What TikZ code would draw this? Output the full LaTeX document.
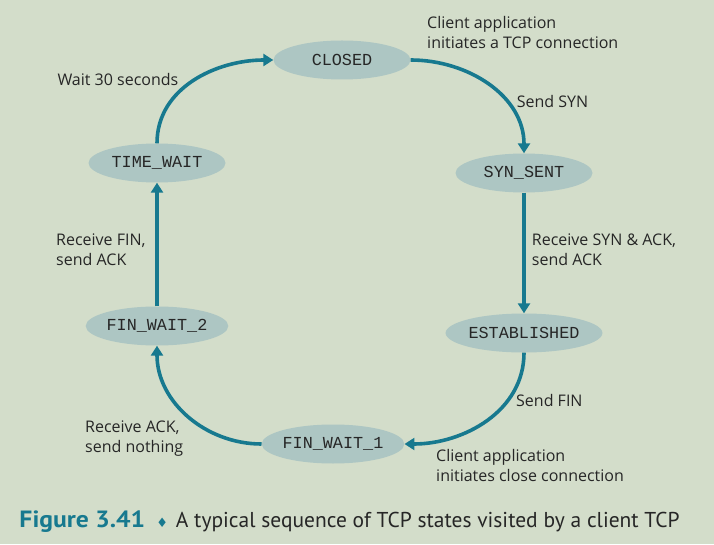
\documentclass[tikz,border=0pt]{standalone}
\usepackage{fontspec}
\setmainfont{Open Sans}
\setmonofont{Liberation Mono}
\newfontfamily\capfont{PT Sans}
\newfontfamily\symfont{DejaVu Sans}
\usepackage{xcolor}
\usetikzlibrary{shapes.geometric,arrows.meta}
\definecolor{bgcol}{HTML}{D3DDCA}
\definecolor{statecol}{HTML}{ADC6C3}
\definecolor{arrowcol}{HTML}{17798F}
\definecolor{textcol}{HTML}{262626}

\begin{document}
\begin{tikzpicture}[x=1pt,y=1pt,
state/.style={ellipse,fill=statecol,minimum width=137pt,minimum height=39pt,inner sep=0pt,
  text=textcol,font=\ttfamily\fontsize{16.8}{18}\selectfont},
trans/.style={draw=arrowcol,line width=3.6pt,-{Triangle[length=10pt,width=12pt]}},
lbl/.style={anchor=base west,align=left,inner sep=0pt,text=textcol,
  font=\fontsize{16}{20}\selectfont}
]
\fill[bgcol] (0,0) rectangle (714,544);
% states
\node[state] (closed) at (342,484) {CLOSED};
\node[state] (synsent) at (524,371) {SYN\_SENT};
\node[state] (estab) at (524,211) {ESTABLISHED};
\node[state] (finwaitone) at (333,100) {FIN\_WAIT\_1};
\node[state] (finwaittwo) at (157,218) {FIN\_WAIT\_2};
\node[state] (timewait) at (157,381) {TIME\_WAIT};
% transitions
\draw[trans] (closed.east) to[out=0,in=90] (synsent.north);
\draw[trans] (synsent.south) -- (estab.north);
\draw[trans] (estab.south) to[out=-90,in=0] (finwaitone.east);
\draw[trans] (finwaitone.west) to[out=180,in=-90] (finwaittwo.south);
\draw[trans] (finwaittwo.north) -- (timewait.south);
\draw[trans] (timewait.north) to[out=90,in=180] (closed.west);
% labels (base = last line)
\node[lbl] (lclient) at (427,495.7) {Client application\\initiates a TCP connection};
\node[lbl] (lsyn) at (516.7,436) {Send SYN};
\node[lbl] (lsynack) at (531.7,278.3) {Receive SYN \& ACK,\\send ACK};
\node[lbl] (lfin) at (516,138) {Send FIN};
\node[lbl] (lclose) at (436,62.3) {Client application\\initiates close connection};
\node[lbl] (lack) at (85,91.3) {Receive ACK,\\send nothing};
\node[lbl] (lrfin) at (56,278.3) {Receive FIN,\\send ACK};
\node[lbl] (lwait) at (57.3,458) {Wait 30 seconds};
% caption
\node[anchor=base west,inner sep=0pt,text=textcol,font=\capfont\fontsize{21.5}{24}\selectfont]
  (caption) at (19.3,16.3) {\textcolor{arrowcol}{\scalebox{1.09}[1]{\fontsize{23.5}{24}\selectfont\bfseries Figure 3.41}}\hspace{11pt}%
  \textcolor{arrowcol}{\symfont\fontsize{13}{14}\selectfont ♦}\hspace{8pt}A typical sequence of TCP states visited by a client TCP};
\end{tikzpicture}
\end{document}
